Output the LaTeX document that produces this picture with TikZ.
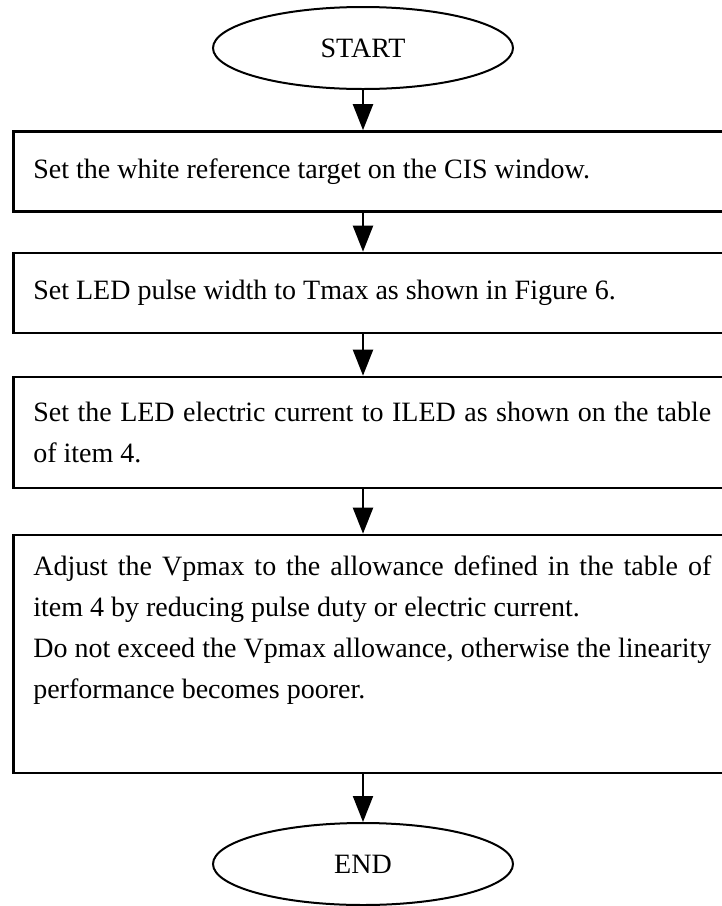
\documentclass[tikz,border=0pt]{standalone}
\usepackage{fontspec}
\setmainfont{Liberation Serif}
\usepackage{tikz}
\usetikzlibrary{shapes.geometric,arrows.meta}

\begin{document}
\begin{tikzpicture}[x=0.5pt,y=-0.5pt,
  font=\fontsize{14}{20.5}\selectfont,
  term/.style={ellipse,draw,line width=1pt,minimum width=150pt,minimum height=41pt,inner sep=0pt},
  stepbox/.style={rectangle,draw,line width=1.3pt,anchor=west,text width=339pt,inner xsep=10pt,inner ysep=0pt,align=justify},
  flow/.style={line width=1pt,-{Triangle[length=13pt,width=10pt]}}]
\useasboundingbox (0,0) rectangle (722,906);
\clip (0,0) rectangle (722,906);
%Start, Schritte, Ende
\node[term] (start) at (363,48) {START};
\node[stepbox,minimum height=40pt] (white) at (12,171.5) {Set the white reference target on the CIS window.};
\node[stepbox,minimum height=40pt] (pulse) at (12,293) {Set LED pulse width to Tmax as shown in Figure 6.};
\node[stepbox,minimum height=55.5pt] (current) at (12,432.5) {Set the LED electric current to ILED as shown on the table\linebreak of item 4.};
\node[stepbox,minimum height=119pt] (adjust) at (12,654) {Adjust the Vpmax to the allowance defined in the table of\linebreak item 4 by reducing pulse duty or electric current.\\ Do not exceed the Vpmax allowance, otherwise the linearity\linebreak performance becomes poorer.\\ \strut};
\node[term] (end) at (363,864) {END};

\path [flow]
(start) edge (start |- white.north)
(start |- white.south) edge (start |- pulse.north)
(start |- pulse.south) edge (start |- current.north)
(start |- current.south) edge (start |- adjust.north)
(start |- adjust.south) edge (end)
;
\end{tikzpicture}
\end{document}
